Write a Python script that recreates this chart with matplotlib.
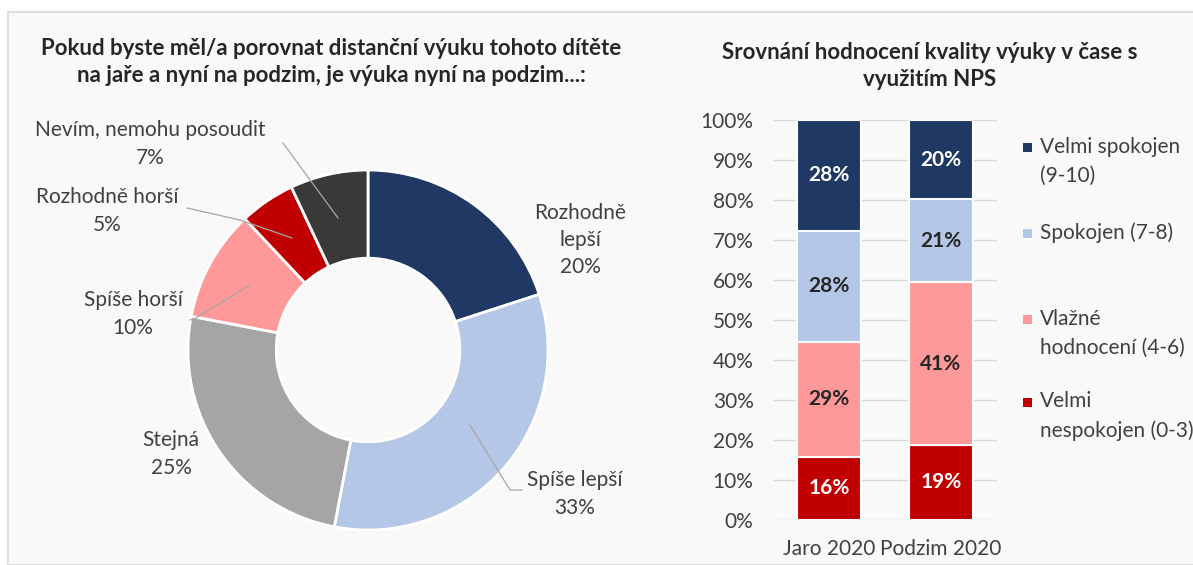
import matplotlib.pyplot as plt
from matplotlib.patches import Rectangle

plt.rcParams['font.family'] = ['Lato', 'DejaVu Sans']

# levý graf - koláč
pie_labels = ['Rozhodně\nlepší', 'Spíše lepší', 'Stejná', 'Spíše horší',
              'Rozhodně horší', 'Nevím, nemohu posoudit']
pie_values = [20, 33, 25, 10, 5, 7]
pie_colors = ['#203864', '#b4c7e7', '#a5a5a5', '#ff9999', '#c00000', '#3b3838']

# pravý graf - NPS
periods = ['Jaro 2020', 'Podzim 2020']
nps_labels = ['Velmi nespokojen (0-3)', 'Vlažné hodnocení (4-6)',
              'Spokojen (7-8)', 'Velmi spokojen (9-10)']
legend_text = ['Velmi\nnespokojen (0-3)', 'Vlažné\nhodnocení (4-6)',
               'Spokojen (7-8)', 'Velmi spokojen\n(9-10)']
nps_values = {
    'Jaro 2020': [16, 29, 28, 28],
    'Podzim 2020': [19, 41, 21, 20],
}
nps_colors = ['#c00000', '#ff9999', '#b4c7e7', '#203864']
nps_text_colors = ['white', '#262626', '#262626', 'white']
yticks = [0, 10, 20, 30, 40, 50, 60, 70, 80, 90, 100]

W, H = 1193, 565
fig = plt.figure(figsize=(W / 100, H / 100), dpi=100)
fig.patch.set_facecolor('white')
fig.patches.append(Rectangle((8 / W, 0), 1, 1 - 12 / H, transform=fig.transFigure,
                             facecolor='#f9f9f9', edgecolor='#dedede', lw=1.5, zorder=-5))

txt = '#404040'
fs = 15

# ---- koláč ----
cx, cy, R = 368, 350, 180
pad = 1.06
ax1 = fig.add_axes([(cx - R * pad) / W, 1 - (cy + R * pad) / H, 2 * R * pad / W, 2 * R * pad / H])
ax1.pie(pie_values, colors=pie_colors, startangle=90, counterclock=False, radius=1,
        wedgeprops=dict(width=0.49, edgecolor='white', linewidth=2))
ax1.set_xlim(-pad, pad)
ax1.set_ylim(-pad, pad)
ax1.set_aspect('equal')
ax1.axis('off')


def d(px, py):
    return ((px - cx) / R, (cy - py) / R)


label_pos = [(580, 240), (575, 494), (171, 454), (133, 314), (107, 211), (150, 144)]
for lab, val, (px, py) in zip(pie_labels, pie_values, label_pos):
    ax1.text(*d(px, py), f'{lab}\n{val}%', ha='center', va='center', fontsize=fs,
             color=txt, linespacing=1.45)

leaders = [
    [(470, 425), (510, 490), (522, 490)],
    [(250, 285), (196, 318), (190, 320)],
    [(187, 208), (240, 220), (292, 238)],
    [(283, 143), (338, 218)],
]
for pts in leaders:
    xs, ys = zip(*[d(*p) for p in pts])
    ax1.plot(xs, ys, color='#a6a6a6', lw=0.9, clip_on=False)

fig.text(331 / W, 1 - 62 / H,
         'Pokud byste měl/a porovnat distanční výuku tohoto dítěte\n'
         'na jaře a nyní na podzim, je výuka nyní na podzim...:',
         ha='center', va='center', fontsize=16, fontweight='bold', color='#262626',
         linespacing=1.38)

# ---- sloupcový graf ----
ax2 = fig.add_axes([773 / W, 1 - 520 / H, 224 / W, 400 / H])
ax2.set_facecolor('none')
for i, per in enumerate(periods):
    vals = nps_values[per]
    tot = sum(vals)
    bottom = 0
    for v, c, tc in zip(vals, nps_colors, nps_text_colors):
        h = v / tot * 100
        ax2.bar(i, h, bottom=bottom, width=0.57, color=c, edgecolor='white', linewidth=1.5,
                zorder=3)
        ax2.text(i, bottom + h / 2, f'{v}%', ha='center', va='center', fontsize=fs,
                 fontweight='bold', color=tc, zorder=4)
        bottom += h

ax2.set_xlim(-0.5, 1.5)
ax2.set_ylim(0, 100)
ax2.set_yticks(yticks)
ax2.set_yticklabels([f'{t}%' for t in yticks])
ax2.set_xticks(range(len(periods)))
ax2.set_xticklabels(periods)
ax2.grid(axis='y', color='#d9d9d9', lw=1, zorder=0)
for s in ax2.spines.values():
    s.set_visible(False)
ax2.tick_params(axis='both', length=0, labelsize=fs, colors='#404040')
ax2.tick_params(axis='y', pad=14)
ax2.tick_params(axis='x', pad=14)

fig.text(930 / W, 1 - 66 / H, 'Srovnání hodnocení kvality výuky v čase s\nvyužitím NPS',
         ha='center', va='center', fontsize=16, fontweight='bold', color='#262626',
         linespacing=1.38)

# legenda
leg_y = [416, 333, 233, 161]
for lab, c, y in zip(legend_text, nps_colors, leg_y):
    first_line = y - (14 if '\n' in lab else 0)
    fig.patches.append(Rectangle((1023 / W, 1 - (first_line + 5) / H), 9 / W, 9 / H,
                                 transform=fig.transFigure, facecolor=c, edgecolor='none'))
    fig.text(1040 / W, 1 - y / H, lab, ha='left', va='center', fontsize=fs, color=txt,
             linespacing=1.55)

fig.savefig('out.png', dpi=100, facecolor=fig.get_facecolor())
